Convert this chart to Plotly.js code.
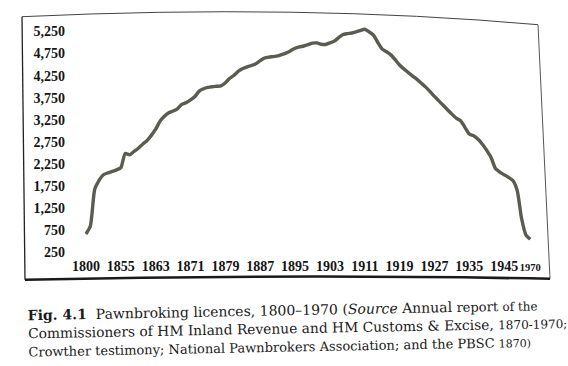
<!DOCTYPE html>
<html>
<head>
<meta charset="utf-8">
<script src="https://cdn.plot.ly/plotly-3.0.1.min.js"></script>
<style>
html,body{margin:0;padding:0;background:#fff;}
#chart{width:568px;height:366px;}
</style>
</head>
<body>
<div id="chart"></div>
<script>
// ---- data ----
const years = [
  "1800","1810","1820","1830","1840","1850","1852","1854",
  "1855","1856","1857","1858","1859","1860","1861","1862","1863","1864",
  "1865","1866","1867","1868","1869","1870","1871","1872","1873","1874",
  "1875","1876","1877","1878","1879","1880","1881","1882","1883","1884",
  "1885","1886","1887","1888","1889","1890","1891","1892","1893","1894",
  "1895","1896","1897","1898","1899","1900","1901","1902","1903","1904",
  "1905","1906","1907","1908","1909","1910","1911","1912","1913","1914",
  "1915","1916","1917","1918","1919","1920","1921","1922","1923","1924",
  "1925","1926","1927","1928","1929","1930","1931","1932","1933","1934",
  "1935","1936","1937","1938","1939","1942","1943","1944","1945",
  "1947","1950","1955","1960","1965","1970"
];
const licences = [
  670, 850, 1680, 1880, 2010, 2050, 2085, 2120,
  2170, 2490, 2460, 2535, 2610, 2700, 2780, 2900, 3040, 3220,
  3330, 3410, 3450, 3500, 3600, 3640, 3700, 3780, 3900, 3955,
  3985, 4000, 4010, 4020, 4090, 4190, 4260, 4350, 4410, 4450,
  4480, 4520, 4590, 4650, 4670, 4680, 4695, 4730, 4765, 4815,
  4870, 4900, 4920, 4950, 4985, 4990, 4960, 4955, 4990, 5030,
  5110, 5180, 5200, 5215, 5240, 5270, 5300, 5240, 5165, 5000,
  4850, 4790, 4720, 4610, 4490, 4400, 4320, 4240, 4165, 4080,
  3990, 3890, 3780, 3680, 3580, 3480, 3380, 3290, 3230, 3080,
  2930, 2890, 2810, 2700, 2560, 2400, 2150, 2070, 2010,
  1950, 1880, 1650, 1020, 650, 550
];
const xTickYears = ["1800","1855","1863","1871","1879","1887","1895","1903","1911","1919","1927","1935","1945","1970"];
const xTickText = ["1800","1855","1863","1871","1879","1887","1895","1903","1911","1919","1927","1935","1945","<span style=\"font-size:10.5px\">1970</span>"];
const yTickValues = [250, 750, 1250, 1750, 2250, 2750, 3250, 3750, 4250, 4750, 5250];
const captionLines = [
  "<b>Fig. 4.1</b>  Pawnbroking licences, 1800–1970 (<i>Source</i> Annual <span style=\"font-size:13px\">report</span> <span style=\"font-size:12px\">of the</span>",
  "<span style=\"font-size:13.8px\">Commissioners of HM Inland Revenue and HM Customs &amp; Excise, <span style=\"font-size:12px\">1870-1970;</span></span>",
  "<span style=\"font-size:13px\">Crowther testimony; National Pawnbrokers Association; and the PBSC <span style=\"font-size:11px\">1870)</span></span>"
];

// ---- layout geometry ----
const W = 568, H = 366;
const M = {l: 80, r: 29, t: 27.3, b: 108.8};
const pw = W - M.l - M.r, ph = H - M.t - M.b;
function px(x){ return (x - M.l) / pw; }
function py(y){ return 1 - (y - M.t) / ph; }

const frameTop = `M ${px(22)},${py(17)} Q ${px(300)},${py(4)} ${px(538)},${py(25)}`;
const frameRight = `M ${px(538)},${py(25)} L ${px(550)},${py(279)}`;
const frameLeft = `M ${px(22)},${py(17)} L ${px(25)},${py(280)}`;
const frameBottom = `M ${px(25)},${py(280)} Q ${px(300)},${py(274)} ${px(550)},${py(279)}`;

const SERIF = 'Liberation Serif, DejaVu Serif, serif';
const CAPFONT = 'DejaVu Serif, Liberation Serif, serif';

const trace = {
  x: years,
  y: licences,
  type: 'scatter',
  mode: 'lines',
  line: {color: '#5b5b52', width: 3.4, shape: 'spline', smoothing: 0.6},
  hoverinfo: 'x+y'
};

const layout = {
  width: W, height: H,
  margin: M,
  paper_bgcolor: '#ffffff',
  plot_bgcolor: '#ffffff',
  showlegend: false,
  font: {family: SERIF, color: '#151515'},
  xaxis: {
    type: 'category',
    range: [-1.376, 104],
    tickmode: 'array',
    tickvals: xTickYears,
    ticktext: xTickText,
    tickangle: 0,
    showgrid: false, zeroline: false, showline: false,
    ticks: '', ticklabelstandoff: -1,
    tickfont: {size: 14, family: SERIF, weight: 'bold', color: '#151515'},
    fixedrange: true
  },
  yaxis: {
    range: [150, 5350],
    tickmode: 'array',
    tickvals: yTickValues,
    tickformat: ',d',
    showgrid: false, zeroline: false, showline: false,
    ticks: '', ticklabelstandoff: 14,
    tickfont: {size: 14, family: SERIF, weight: 'bold', color: '#151515'},
    fixedrange: true
  },
  shapes: [
    {type: 'path', xref: 'paper', yref: 'paper', path: frameTop, line: {color: '#444', width: 1}},
    {type: 'path', xref: 'paper', yref: 'paper', path: frameRight, line: {color: '#555', width: 1}},
    {type: 'path', xref: 'paper', yref: 'paper', path: frameLeft, line: {color: '#222', width: 1.3}},
    {type: 'path', xref: 'paper', yref: 'paper', path: frameBottom, line: {color: '#1a1a1a', width: 2.6}}
  ],
  annotations: [{
    text: captionLines.join('<br>'),
    xref: 'paper', yref: 'paper',
    x: px(26), y: py(295),
    xanchor: 'left', yanchor: 'top',
    align: 'left',
    showarrow: false,
    textangle: -1.1,
    font: {size: 14, family: CAPFONT, color: '#1a1a1a'}
  }]
};

Plotly.newPlot('chart', [trace], layout, {displayModeBar: false, staticPlot: true});
</script>
</body>
</html>
